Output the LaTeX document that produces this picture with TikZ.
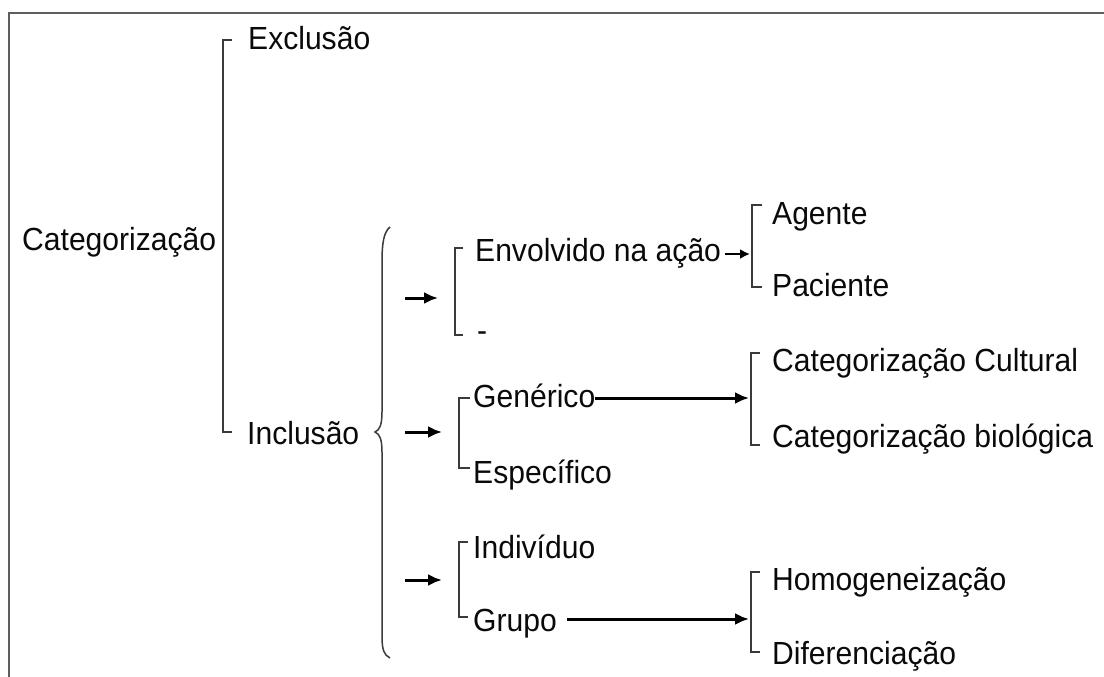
\documentclass[tikz,border=0pt]{standalone}
\usepackage{fontspec}
\setmainfont{Liberation Sans}[FakeStretch=0.94]
\usetikzlibrary{arrows.meta}
\definecolor{txt}{HTML}{0A0A0A}
\definecolor{brk}{HTML}{3A3A3A}
\definecolor{frm}{HTML}{5E5E5E}
\begin{document}
\begin{tikzpicture}[x=1pt,y=-1pt,
  lbl/.style={anchor=base west,inner sep=0pt,text=txt,font=\fontsize{32}{38}\selectfont},
  brack/.style={draw=brk,line width=1.8pt},
  arr/.style={draw=black,line width=3pt,-{Latex[length=14pt,width=12pt]}},
  sarr/.style={draw=black,line width=2.6pt,-{Latex[length=10pt,width=10pt]}}]
\useasboundingbox (0,0) rectangle (1104,677);
\draw[frm,line width=2.4pt] (9,690) -- (9,13) -- (1115,13);
% texts
\node[lbl] (cat) at (22,250) {Categorização};
\node[lbl] (excl) at (248,50) {Exclusão};
\node[lbl] (incl) at (247,444) {Inclusão};
\node[lbl] (env) at (475,261) {Envolvido na ação};
\node[lbl] (dash) at (477,341) {-};
\node[lbl] (agen) at (772,224) {Agente};
\node[lbl] (paci) at (772,296) {Paciente};
\node[lbl] (gen) at (473,407) {Genérico};
\node[lbl] (esp) at (473,483) {Específico};
\node[lbl] (ind) at (473,558) {Indivíduo};
\node[lbl] (grp) at (473,631) {Grupo};
\node[lbl] (cult) at (772,371) {Categorização Cultural};
\node[lbl] (bio) at (772,447) {Categorização biológica};
\node[lbl] (homo) at (772,590) {Homogeneização};
\node[lbl] (dif) at (772,664) {Diferenciação};
% brackets
\draw[brack] (232,40) -- (223,40) -- (223,432) -- (232,432);
\draw[brack] (463,248) -- (455,248) -- (455,335) -- (463,335);
\draw[brack] (762,205) -- (752,205) -- (752,287) -- (762,287);
\draw[brack] (470,398) -- (459,398) -- (459,468) -- (470,468);
\draw[brack] (760,353) -- (751,353) -- (751,445) -- (760,445);
\draw[brack] (468,542) -- (459,542) -- (459,617) -- (468,617);
\draw[brack] (760,572) -- (751,572) -- (751,652) -- (760,652);
% curly brace
\draw[brk,line width=1.5pt] (390,227) .. controls (384,232) and (382,242) .. (382,262)
  -- (382,412) .. controls (382,424) and (380,430) .. (375,432)
  .. controls (380,434) and (382,440) .. (382,452)
  -- (382,636) .. controls (382,650) and (384,655) .. (390,658);
% bracket targets
\coordinate (b2) at (453,298);
\coordinate (b3) at (750,254);
\coordinate (b4) at (457,432);
\coordinate (b5) at (749,398);
\coordinate (b6) at (457,580);
\coordinate (b7) at (749,619);
\coordinate (s2) at (405,298);
\coordinate (s4) at (405,432);
\coordinate (s6) at (405,580);
% arrows
\draw[arr] (s2) -- ([xshift=-15pt]b2);
\draw[arr] (s4) -- ([xshift=-15pt]b4);
\draw[arr] (s6) -- ([xshift=-15pt]b6);
\draw[sarr] ([xshift=4pt]env.east |- b3) -- (b3);
\draw[arr] (gen.east |- b5) -- (b5);
\draw[arr] ([xshift=10pt]grp.east |- b7) -- (b7);
\end{tikzpicture}
\end{document}
